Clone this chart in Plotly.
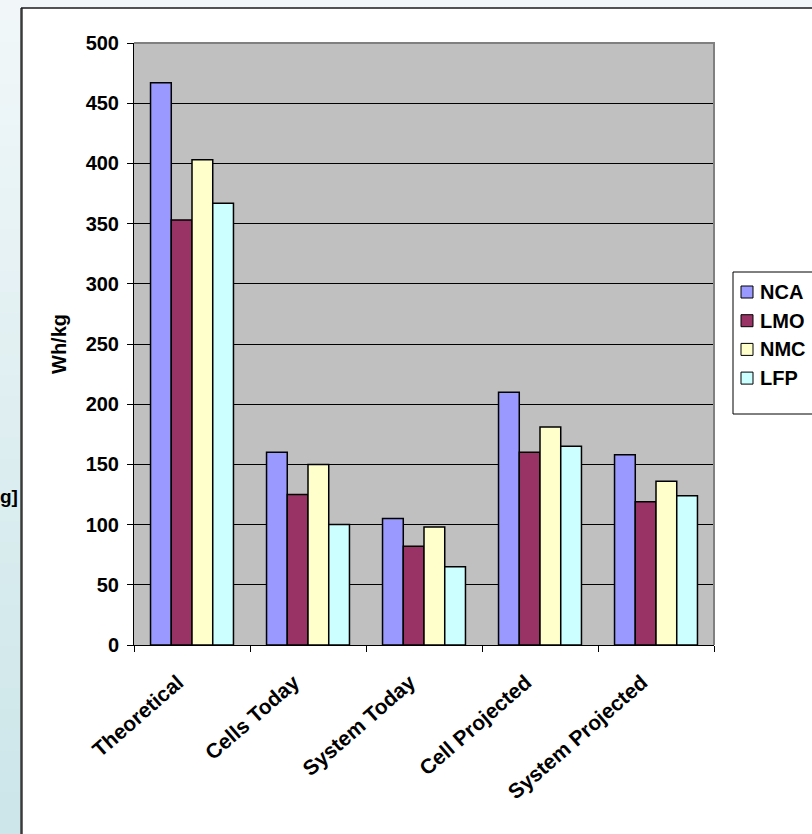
import plotly.graph_objects as go

# Energy density by chemistry and stage (Wh/kg)
categories = ["Theoretical", "Cells Today", "System Today", "Cell Projected", "System Projected"]
nca = [467, 160, 105, 210, 158]
lmo = [353, 125, 82, 160, 119]
nmc = [403, 150, 98, 181, 136]
lfp = [367, 100, 65, 165, 124]

series_names = ["NCA", "LMO", "NMC", "LFP"]
series_values = [nca, lmo, nmc, lfp]
series_colors = ["#9999ff", "#993366", "#ffffcc", "#ccffff"]

y_ticks = list(range(0, 501, 50))

# Page and plot-area geometry (pixels)
W, H = 812, 834
ML, MR, MT, MB = 134, 98, 43, 189
PW, PH = W - ML - MR, H - MT - MB


def px(x):
    return (x - ML) / PW


def py(y):
    return (H - MB - y) / PH


FONT = "Liberation Sans, Arial, sans-serif"
BOLD20 = dict(family=FONT, size=20, color="#000000", weight="bold")

fig = go.Figure()
for name, vals, col in zip(series_names, series_values, series_colors):
    fig.add_trace(go.Bar(
        name=name, x=categories, y=vals,
        marker=dict(color=col, line=dict(color="#000000", width=1.5)),
        showlegend=False,
    ))

shapes = []
# soft blue backdrop behind the chart box
n = 40
c0 = (0xf1, 0xf7, 0xf9)
c1 = (0xcc, 0xe6, 0xe9)
for i in range(n):
    t = i / (n - 1)
    c = tuple(round(a + (b - a) * t) for a, b in zip(c0, c1))
    y0 = H * i / n
    y1 = H * (i + 1) / n
    shapes.append(dict(type="rect", xref="paper", yref="paper", layer="below",
                       x0=px(-5), x1=px(W + 5), y0=py(y1 + 1), y1=py(y0),
                       fillcolor="rgb(%d,%d,%d)" % c, line=dict(width=0)))
# white chart box
shapes.append(dict(type="rect", xref="paper", yref="paper", layer="below",
                   x0=px(21), x1=px(W + 20), y0=py(H + 20), y1=py(8),
                   fillcolor="#ffffff", line=dict(width=0)))
shapes.append(dict(type="line", xref="paper", yref="paper", layer="below",
                   x0=px(21.5), x1=px(21.5), y0=py(8), y1=py(H + 20),
                   line=dict(color="#3a3a3a", width=2.5)))
shapes.append(dict(type="line", xref="paper", yref="paper", layer="below",
                   x0=px(21), x1=px(W + 20), y0=py(8), y1=py(8),
                   line=dict(color="#1a1a1a", width=1.5)))
# grey plot area
shapes.append(dict(type="rect", xref="paper", yref="paper", layer="below",
                   x0=0, x1=1, y0=0, y1=1,
                   fillcolor="#c0c0c0", line=dict(width=0)))
# plot-area frame (top and right)
shapes.append(dict(type="path", xref="paper", yref="paper", layer="above",
                   path="M 0 1 L 1 1 L 1 0",
                   line=dict(color="#808080", width=2)))

annotations = [
    dict(text="Wh/kg", x=px(59), y=py(344), xref="paper", yref="paper",
         textangle=-90, showarrow=False, xanchor="center", yanchor="middle",
         font=BOLD20),
    dict(text="g]", x=px(19), y=py(497), xref="paper", yref="paper",
         showarrow=False, xanchor="right", yanchor="middle", borderpad=0,
         font=dict(family=FONT, size=19, color="#000000", weight="bold")),
]

# legend box with swatches
LEG_X0, LEG_Y0, LEG_Y1 = 733, 272, 414
LEG_ROW0, LEG_STEP = 292, 28.7
shapes.append(dict(type="rect", xref="paper", yref="paper", layer="above",
                   x0=px(LEG_X0), x1=px(W + 20), y0=py(LEG_Y1), y1=py(LEG_Y0),
                   fillcolor="#ffffff", line=dict(color="#000000", width=1)))
for i, (name, col) in enumerate(zip(series_names, series_colors)):
    yc = LEG_ROW0 + i * LEG_STEP
    shapes.append(dict(type="rect", xref="paper", yref="paper", layer="above",
                       x0=px(741), x1=px(753), y0=py(yc + 6), y1=py(yc - 6),
                       fillcolor=col, line=dict(color="#000000", width=1)))
    annotations.append(dict(text=name, x=px(758), y=py(yc), xref="paper", yref="paper",
                            showarrow=False, xanchor="left", yanchor="middle",
                            font=BOLD20))

fig.update_layout(
    width=W, height=H,
    margin=dict(l=ML, r=MR, t=MT, b=MB, autoexpand=False),
    paper_bgcolor="#ffffff", plot_bgcolor="rgba(0,0,0,0)",
    font=BOLD20,
    barmode="group", bargap=0.285, bargroupgap=0,
    shapes=shapes, annotations=annotations,
    showlegend=False,
    xaxis=dict(type="category", categoryorder="array", categoryarray=categories,
               tickson="boundaries", ticks="outside", ticklen=6, tickcolor="#000000",
               showline=True, linecolor="#000000", linewidth=1,
               tickangle=-41, showgrid=False, zeroline=False, automargin=False,
               ticklabelstandoff=16, ticklabelshift=-14,
               tickfont=dict(family=FONT, size=21, color="#000000", weight="bold")),
    yaxis=dict(range=[0, 500], tickvals=y_ticks, ticks="outside", ticklen=6,
               tickcolor="#000000", showline=True, linecolor="#000000", linewidth=1,
               showgrid=True, gridcolor="#000000", gridwidth=1, zeroline=False,
               automargin=False, ticklabelstandoff=4,
               tickfont=BOLD20),
)

fig.write_html("out.html")
